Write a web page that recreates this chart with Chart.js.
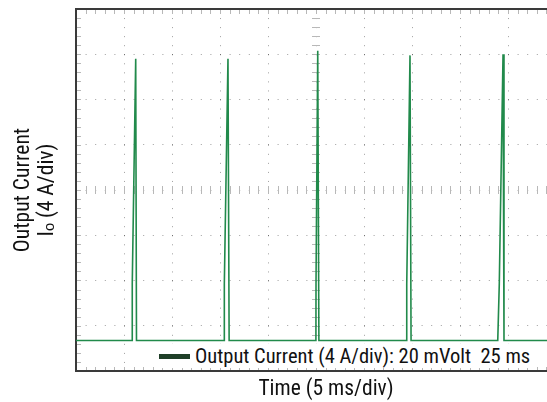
<!DOCTYPE html>
<html>
<head>
<meta charset="utf-8">
<script src="https://cdn.jsdelivr.net/npm/chart.js@4/dist/chart.umd.min.js"></script>
<style>
  html, body { margin: 0; padding: 0; background: #fff; overflow: hidden; }
  #wrap { position: relative; width: 576px; height: 402px; }
  #legend { position: absolute; left: 159px; top: 344px; display: flex; align-items: center;
    font-family: 'Liberation Sans Narrow', 'Roboto Condensed', 'Liberation Sans', sans-serif;
    font-size: 20.5px; color: #111; white-space: pre; background: #fff; padding-right: 2px; }
  #legend .sw { width: 31px; height: 5px; margin-right: 5px; }
</style>
</head>
<body>
<div id="wrap">
  <canvas id="chart"></canvas>
  <div id="legend"></div>
</div>
<script>
// scope trace: time in ms, current in A
const timeMs   = [0, 5.85, 5.86, 6.22, 6.30, 15.44, 15.45, 15.83, 15.95, 24.99, 25.00, 25.18, 25.30,
                  34.44, 34.45, 34.79, 34.90, 43.93, 44.09, 44.48, 44.58, 52.08];
const currentA = [-13.3, -13.3, -8.3, 11.6, -13.3, -13.3, -8.3, 11.6, -13.3, -13.3, -8.2, 12.3, -13.3,
                  -13.3, -8.3, 11.9, -13.3, -13.3, -8.3, 12.0, -13.3, -13.3];

const SERIES_LABEL = 'Output Current (4 A/div): 20 mVolt  25 ms';
const X_TITLE = 'Time (5 ms/div)';
const Y_TITLE = ['Output Current', 'I\u2092 (4 A/div)'];

const FONT = "'Liberation Sans Narrow', 'Roboto Condensed', 'Liberation Sans', sans-serif";
const LINE_COLOR = '#218a4b';
const SWATCH_COLOR = '#1f3f28';

// frame + scope-style minor ticks along the edges and centre axes
const scopeFrame = {
  id: 'scopeFrame',
  beforeDatasetsDraw(chart) {
    const { ctx, chartArea: a, scales: { x, y } } = chart;
    const cx = x.getPixelForValue(25), cy = y.getPixelForValue(0);
    ctx.save();
    ctx.strokeStyle = '#b8b8b8';
    ctx.lineWidth = 1;
    ctx.beginPath();
    for (let t = 0; t <= 52; t += 1) {
      const px = Math.round(x.getPixelForValue(t)) + 0.5;
      ctx.moveTo(px, a.top); ctx.lineTo(px, a.top + 5);
      ctx.moveTo(px, a.bottom); ctx.lineTo(px, a.bottom - 4);
      ctx.moveTo(px, cy - 4); ctx.lineTo(px, cy + 4);
    }
    for (let v = -16; v <= 16.01; v += 0.8) {
      const py = Math.round(y.getPixelForValue(v)) + 0.5;
      ctx.moveTo(a.left, py); ctx.lineTo(a.left + 5, py);
      ctx.moveTo(cx - 4, py); ctx.lineTo(cx + 4, py);
    }
    ctx.stroke();
    ctx.strokeStyle = '#3a3a3a';
    ctx.lineWidth = 2;
    ctx.beginPath();
    ctx.moveTo(a.right + 2, a.top); ctx.lineTo(a.left, a.top);
    ctx.lineTo(a.left, a.bottom); ctx.lineTo(a.right + 2, a.bottom);
    ctx.stroke();
    ctx.restore();
  }
};

const htmlLegend = {
  id: 'htmlLegend',
  afterUpdate(chart) {
    const box = document.getElementById('legend');
    box.innerHTML = chart.data.datasets.map(ds =>
      `<span class="sw" style="background:${SWATCH_COLOR}"></span><span>${ds.label}</span>`).join('');
  }
};

new Chart(document.getElementById('chart'), {
  type: 'line',
  data: {
    datasets: [{
      label: SERIES_LABEL,
      data: timeMs.map((t, i) => ({ x: t, y: currentA[i] })),
      borderColor: LINE_COLOR,
      borderWidth: 1.6,
      pointRadius: 0,
      tension: 0,
    }]
  },
  options: {
    responsive: true,
    maintainAspectRatio: false,
    animation: false,
    layout: { padding: { top: 9, right: 0, bottom: 0, left: 0 } },
    plugins: { legend: { display: false }, tooltip: { enabled: false } },
    scales: {
      x: {
        type: 'linear', min: 0, max: 52.08,
        ticks: { stepSize: 5, display: false },
        afterBuildTicks: s => { s.ticks = s.ticks.filter(t => t.value % 5 === 0); },
        afterFit: s => { s.height = 31; },
        grid: { color: 'rgba(0,0,0,0.38)', lineWidth: 1, drawTicks: false },
        border: { display: false, dash: [1, 8.05] },
        title: { display: true, text: X_TITLE, color: '#111',
          font: { family: FONT, size: 21.5, lineHeight: 1.15 }, padding: { top: 0, bottom: 0 } },
      },
      y: {
        type: 'linear', min: -16, max: 16,
        ticks: { stepSize: 4, display: false },
        afterFit: s => { s.width = 76; },
        grid: { color: 'rgba(0,0,0,0.38)', lineWidth: 1, drawTicks: false },
        border: { display: false, dash: [1, 8.6] },
        title: { display: true, text: Y_TITLE, color: '#111',
          font: { family: FONT, size: 21.5, lineHeight: 1.1 }, padding: { top: 12, bottom: 0 } },
      },
    },
  },
  plugins: [scopeFrame, htmlLegend],
});
</script>
</body>
</html>
